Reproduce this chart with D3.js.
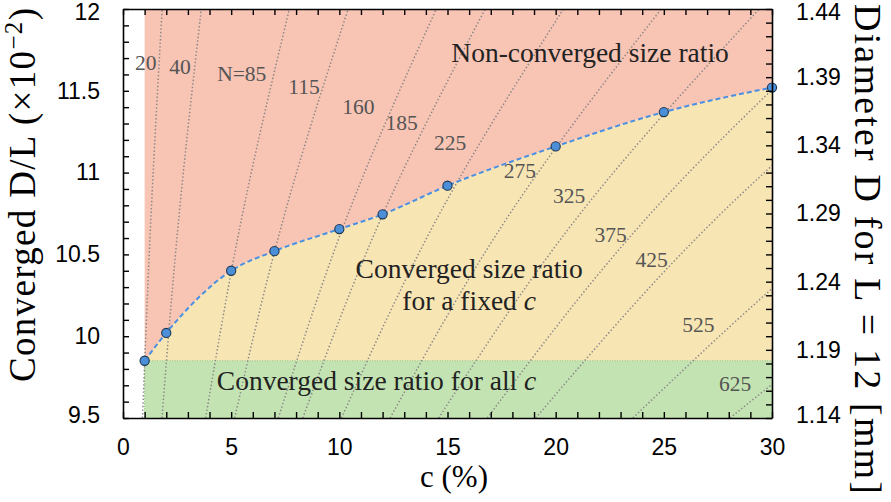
<!DOCTYPE html>
<html>
<head>
<meta charset="utf-8">
<script src="https://cdn.jsdelivr.net/npm/d3@7"></script>
<style>
  html, body { margin: 0; padding: 0; background: #fff; }
  svg { display: block; }
</style>
</head>
<body>
<svg id="chart" width="891" height="502"></svg>
<script>
// ---------------- data ----------------
const cPercent = [1, 2, 5, 7, 10, 12, 15, 20, 25, 30];
const convergedDL = [9.85, 10.02, 10.40, 10.52, 10.655, 10.745, 10.92, 11.16, 11.37, 11.52];
const allCLevel = 9.85;

const isoN = [20, 40, 85, 115, 160, 185, 225, 275, 325, 375, 425, 525, 625];
const isoLevels = [9.5, 10.75, 12];
const isoCAtLow  = [0.90, 1.80, 3.82, 5.16, 7.18, 8.31, 10.10, 12.35, 14.59, 16.84, 19.08, 23.57, 28.06];
const isoCAtMid  = [1.30, 2.60, 5.53, 7.48, 10.41, 12.03, 14.64, 17.89, 21.14, 24.39, 27.65, 34.15, 40.65];
const isoCAtHigh = [1.81, 3.62, 7.69, 10.41, 14.48, 16.74, 20.36, 24.88, 29.41, 33.93, 38.45, 47.50, 56.55];
const isoLabels = ["20", "40", "N=85", "115", "160", "185", "225", "275", "325", "375", "425", "525", "625"];
const isoLabelC = [1.05, 2.64, 5.49, 8.37, 10.88, 12.88, 15.12, 18.35, 20.62, 22.54, 24.44, 26.6, 28.29];
const isoLabelY = [11.627, 11.603, 11.557, 11.483, 11.361, 11.260, 11.138, 10.967, 10.817, 10.573, 10.420, 10.023, 9.665];

const xTickValues = [0, 5, 10, 15, 20, 25, 30];
const yTickValues = [9.5, 10, 10.5, 11, 11.5, 12];
const yTickLabels = ["9.5", "10", "10.5", "11", "11.5", "12"];
const rightTickValues = [1.14, 1.19, 1.24, 1.29, 1.34, 1.39, 1.44];
const rightTickLabels = ["1.14", "1.19", "1.24", "1.29", "1.34", "1.39", "1.44"];

const regionTexts = ["Non-converged size ratio", "Converged size ratio", "for a fixed ", "Converged size ratio for all "];
const regionTextC = [21.59, 16.0, 16.0, 11.72];
const regionTextY = [11.673, 10.354, 10.16, 9.671];

// ---------------- layout ----------------
const W = 891, H = 502;
const mLeft = 123, mRight = 772, mTop = 9, mBottom = 418;
const svg = d3.select("#chart");

const x = d3.scaleLinear().domain([0, 30]).range([mLeft, mRight]);
const y = d3.scaleLinear().domain([9.5, 12]).range([mBottom, mTop]);
const yR = d3.scaleLinear().domain([1.14, 1.44]).range([mBottom, mTop]);

const RED = "#f8c4b4", YELLOW = "#f8e5b4", GREEN = "#c3e4b2";
const serif = "'Liberation Serif', 'Times New Roman', serif";
const sans = "'Liberation Sans', Arial, Helvetica, sans-serif";

svg.append("defs").append("clipPath").attr("id", "plotclip")
  .append("rect").attr("x", mLeft).attr("y", mTop).attr("width", mRight - mLeft).attr("height", mBottom - mTop);

const plot = svg.append("g").attr("clip-path", "url(#plotclip)");

const pts = cPercent.map((c, i) => [c, convergedDL[i]]);
const curve = d3.curveMonotoneX;

// red region (above the curve)
const redArea = d3.area().x(d => x(d[0])).y0(y(12)).y1(d => y(d[1])).curve(curve);
plot.append("path").datum(pts).attr("d", redArea).attr("fill", RED);
// yellow region (between green top and curve)
const yelArea = d3.area().x(d => x(d[0])).y0(y(allCLevel)).y1(d => y(d[1])).curve(curve);
plot.append("path").datum(pts).attr("d", yelArea).attr("fill", YELLOW);
// green region
plot.append("rect")
  .attr("x", x(cPercent[0])).attr("y", y(allCLevel))
  .attr("width", x(30) - x(cPercent[0])).attr("height", y(9.5) - y(allCLevel))
  .attr("fill", GREEN);
// green dotted boundary
plot.append("line")
  .attr("x1", x(cPercent[0])).attr("x2", x(30)).attr("y1", y(allCLevel)).attr("y2", y(allCLevel))
  .attr("stroke", "#8fbf75").attr("stroke-width", 1.2).attr("stroke-dasharray", "1,1.5");
plot.append("line")
  .attr("x1", x(cPercent[0])).attr("x2", x(cPercent[0])).attr("y1", y(allCLevel)).attr("y2", y(9.5))
  .attr("stroke", "#8fbf75").attr("stroke-width", 1.2).attr("stroke-dasharray", "1,1.5");

// iso-N dotted lines
const isoLine = d3.line().x(d => x(d[0])).y(d => y(d[1])).curve(d3.curveNatural);
isoN.forEach((n, i) => {
  const d = [[isoCAtLow[i], isoLevels[0]], [isoCAtMid[i], isoLevels[1]], [isoCAtHigh[i], isoLevels[2]]];
  plot.append("path").datum(d).attr("d", isoLine)
    .attr("fill", "none").attr("stroke", "#8a8686").attr("stroke-width", 1.5)
    .attr("stroke-linecap", "butt").attr("stroke-dasharray", "1.4,2.2");
});

// iso labels
isoLabels.forEach((t, i) => {
  svg.append("text").attr("x", x(isoLabelC[i])).attr("y", y(isoLabelY[i]))
    .attr("text-anchor", "middle").attr("font-family", serif).attr("font-size", 21.5)
    .attr("fill", "#555").text(t);
});

// region labels
regionTexts.forEach((t, i) => {
  const tx = svg.append("text").attr("x", x(regionTextC[i])).attr("y", y(regionTextY[i]))
    .attr("text-anchor", "middle").attr("font-family", serif).attr("font-size", 27.5)
    .attr("fill", "#222").text(t);
  if (i >= 2) tx.append("tspan").attr("font-style", "italic").text("c");
});

// converged curve (dashed) and points
const lineGen = d3.line().x(d => x(d[0])).y(d => y(d[1])).curve(curve);
svg.append("path").datum(pts).attr("d", lineGen)
  .attr("fill", "none").attr("stroke", "#4a90e2").attr("stroke-width", 2)
  .attr("stroke-dasharray", "5,3");
svg.selectAll("circle.pt").data(pts).enter().append("circle")
  .attr("class", "pt").attr("cx", d => x(d[0])).attr("cy", d => y(d[1])).attr("r", 4.6)
  .attr("fill", "#4a8fd8").attr("stroke", "#1d3550").attr("stroke-width", 1.1);

// ---------------- axes ----------------
const tickLen = 6;
const axisG = svg.append("g");
const minorX = d3.range(0, 31, 1);
const minorY = d3.range(95, 121, 1).map(v => v / 10);
const minorR = d3.range(114, 145, 1).map(v => v / 100);

const bottomAxis = d3.axisBottom(x).tickValues(minorX).tickSizeInner(-tickLen).tickSizeOuter(0).tickFormat("");
axisG.append("g").attr("transform", `translate(0,${mBottom})`).call(bottomAxis);
const topAxis = d3.axisTop(x).tickValues(minorX).tickSizeInner(-tickLen).tickSizeOuter(0).tickFormat("");
axisG.append("g").attr("transform", `translate(0,${mTop})`).call(topAxis);
const leftAxis = d3.axisLeft(y).tickValues(minorY).tickSizeInner(-tickLen).tickSizeOuter(0).tickFormat("");
axisG.append("g").attr("transform", `translate(${mLeft},0)`).call(leftAxis);
const rightAxis = d3.axisRight(yR).tickValues(minorR).tickSizeInner(-tickLen).tickSizeOuter(0).tickFormat("");
axisG.append("g").attr("transform", `translate(${mRight},0)`).call(rightAxis);
axisG.selectAll("path.domain").attr("stroke", "#000").attr("stroke-width", 1.6);
axisG.selectAll(".tick line").attr("stroke", "#000").attr("stroke-width", 1.4);

// tick labels
const xLab = d3.axisBottom(x).tickValues(xTickValues).tickSize(0).tickPadding(0);
const xl = svg.append("g").attr("transform", `translate(0,${mBottom + 37})`).call(xLab);
xl.select("path.domain").remove();
xl.selectAll("text").attr("dy", 0).attr("font-family", sans).attr("font-size", 23).attr("fill", "#000");

// vertical nudge so the end labels stay inside the picture (as in the reference)
const edgeNudge = (d, i, n) => (i === 0 ? -3 : (i === n.length - 1 ? 3.5 : 0));

const yLab = d3.axisLeft(y).tickValues(yTickValues).tickSize(0).tickPadding(0).tickFormat((d, i) => yTickLabels[i]);
const yl = svg.append("g").attr("transform", `translate(${mLeft - 23},0)`).call(yLab);
yl.select("path.domain").remove();
yl.selectAll("text").attr("font-family", sans).attr("font-size", 23).attr("fill", "#000")
  .attr("y", edgeNudge);

const rLab = d3.axisRight(yR).tickValues(rightTickValues).tickSize(0).tickPadding(0).tickFormat((d, i) => rightTickLabels[i]);
const rl = svg.append("g").attr("transform", `translate(${mRight + 24},0)`).call(rLab);
rl.select("path.domain").remove();
rl.selectAll("text").attr("font-family", sans).attr("font-size", 23).attr("fill", "#000")
  .attr("y", edgeNudge);

// axis titles
svg.append("text").attr("x", 454).attr("y", 487).attr("text-anchor", "middle")
  .attr("font-family", serif).attr("font-size", 31).attr("fill", "#000").text("c (%)");

const lt = svg.append("text").attr("transform", "translate(35,195) rotate(-90)")
  .attr("text-anchor", "middle").attr("font-family", serif).attr("font-size", 37).attr("fill", "#000")
  .attr("textLength", 374).attr("lengthAdjust", "spacing");
lt.append("tspan").text("Converged D/L (×10");
lt.append("tspan").attr("dy", -13).attr("font-size", 25).text("−2");
lt.append("tspan").attr("dy", 13).text(")");

svg.append("text").attr("transform", "translate(855,249) rotate(90)")
  .attr("text-anchor", "middle").attr("font-family", serif).attr("font-size", 38).attr("fill", "#000")
  .attr("textLength", 490).attr("lengthAdjust", "spacing")
  .text("Diameter D for L = 12 [mm]");
</script>
</body>
</html>
